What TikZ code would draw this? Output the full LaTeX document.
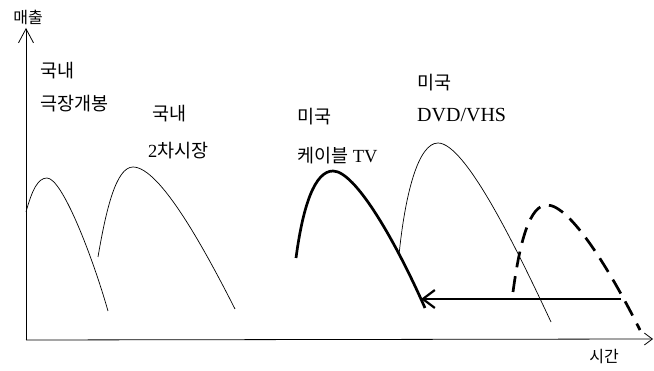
\documentclass[tikz,border=0pt]{standalone}
\usepackage{fontspec}
\setmainfont{Liberation Serif}
\newfontfamily\kr{Noto Sans CJK KR}
\usetikzlibrary{arrows.meta}

\begin{document}
\begin{tikzpicture}[x=1pt,y=-1pt,>=Stealth,
    axis/.style={line width=0.8pt},
    thin curve/.style={line width=0.7pt},
    main curve/.style={line width=2.7pt},
    future curve/.style={line width=2.7pt,dash pattern=on 16pt off 9pt},
    lbl/.style={anchor=west,inner sep=0pt,font=\fontsize{18.5}{22}\selectfont}]
\useasboundingbox (0,0) rectangle (654,371);
% axes
\coordinate (o) at (26,340);
\coordinate (ytip) at (26,28);
\coordinate (xtip) at (653,339);
\draw[axis,-{Straight Barb[length=14pt,width=15pt]}] (o) -- (ytip);
\draw[axis,-{Straight Barb[length=8pt,width=12pt]}] (o) -- (xtip);
\node[font=\kr\fontsize{16}{18}\selectfont] (sales) at (28,17) {매출};
\node[font=\kr\fontsize{16}{18}\selectfont] (time) at (604,357) {시간};
% release windows
\draw[thin curve] (26,212) .. controls (32,190) and (38,178) .. (47,178)
    .. controls (62,178) and (92,255) .. (108,311);
\draw[thin curve] (98,257) .. controls (106,210) and (116,167) .. (133,167)
    .. controls (160,167) and (205,250) .. (235,309);
\draw[main curve] (296,258) .. controls (303,205) and (315,171) .. (333,171)
    .. controls (355,171) and (395,240) .. (425,308);
\draw[thin curve] (399,255) .. controls (405,195) and (418,143) .. (438,143)
    .. controls (465,143) and (515,245) .. (551,322);
\draw[future curve] (513,292) .. controls (520,240) and (530,205) .. (547,205)
    .. controls (570,205) and (610,270) .. (640,330);
% shift of the window
\coordinate (from) at (621,299);
\coordinate (to) at (421,299);
\draw[main curve,line width=2.2pt,-{Straight Barb[length=12pt,width=18pt]}] (from) -- (to);
% labels
\node[lbl] (dom) at (40,71) {\kr 국내};
\node[lbl] (theater) at (40,104) {\kr 극장개봉};
\node[lbl] (dom2) at (152,114) {\kr 국내};
\node[lbl] (second) at (148,151) {2{\kr 차시장}};
\node[lbl] (us) at (297,117) {\kr 미국};
\node[lbl] (cable) at (297,156) {{\kr 케이블} TV};
\node[lbl] (us2) at (417,83) {\kr 미국};
\node[lbl,font=\fontsize{20}{24}\selectfont] (dvd) at (417,115) {DVD/VHS};
\end{tikzpicture}
\end{document}
